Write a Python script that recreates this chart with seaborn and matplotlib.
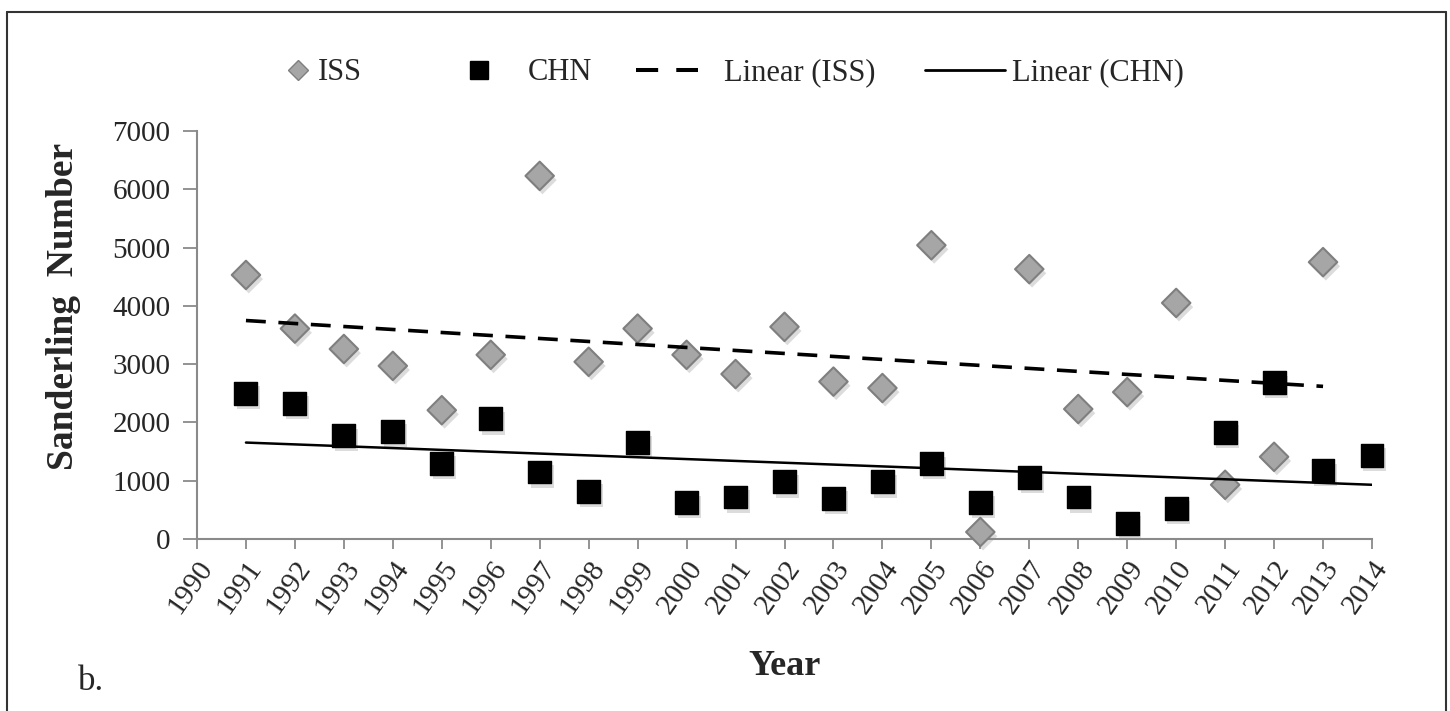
import numpy as np
import pandas as pd
import seaborn as sns
import matplotlib
matplotlib.use("Agg")
import matplotlib.pyplot as plt
from matplotlib import patheffects as pe
from matplotlib.lines import Line2D

# ---- data ----
years_iss = list(range(1991, 2014))
iss = [4530, 3610, 3260, 2970, 2210, 3160, 6230, 3040, 3610, 3160, 2830, 3640,
       2700, 2590, 5040, 120, 4630, 2230, 2520, 4050, 930, 1410, 4750]
years_chn = list(range(1991, 2015))
chn = [2500, 2320, 1770, 1850, 1300, 2060, 1150, 820, 1650, 620, 720, 980,
       700, 980, 1290, 620, 1050, 720, 270, 530, 1830, 2680, 1170, 1440]
x_ticks = list(range(1990, 2015))
y_ticks = list(range(0, 7001, 1000))
series_labels = ["ISS", "CHN", "Linear (ISS)", "Linear (CHN)"]

# linear trendlines fitted from the data
p_iss = np.polyfit(years_iss, iss, 1)
p_chn = np.polyfit(years_chn, chn, 1)
trend_iss = np.polyval(p_iss, years_iss)
trend_chn = np.polyval(p_chn, years_chn)

sns.set_theme(style="white")
plt.rcParams["font.family"] = ["Liberation Serif", "DejaVu Serif"]

W, H = 1450, 711
fig = plt.figure(figsize=(W/100, H/100), dpi=100)
ax = fig.add_axes([197/W, 1-539/H, 1175/W, 408/H])

shadow = [pe.SimplePatchShadow(offset=(2, -3), shadow_rgbFace=(0.55, 0.55, 0.55), alpha=0.3), pe.Normal()]

sns.scatterplot(x=years_chn, y=chn, marker="s", s=16.5**2, color="black",
                edgecolor="black", linewidth=1, ax=ax, zorder=3, clip_on=False)
ax.collections[-1].set_path_effects(shadow)
sns.scatterplot(x=years_iss, y=iss, marker="D", s=14.5**2, color="#A6A6A6",
                edgecolor="#7F7F7F", linewidth=1.5, ax=ax, zorder=4, clip_on=False)
ax.collections[-1].set_path_effects(shadow)

sns.lineplot(x=years_iss, y=trend_iss, color="black", lw=2.6, ax=ax, zorder=5)
ax.lines[-1].set_dashes((5.5, 3.5))
sns.lineplot(x=years_chn, y=trend_chn, color="black", lw=1.8, ax=ax, zorder=5)

ax.set_xlim(1990, 2014)
ax.set_ylim(0, 7000)
ax.set_xticks(x_ticks)
ax.set_xticklabels([str(v) for v in x_ticks], rotation=55, ha="right",
                   va="top", rotation_mode="anchor", fontsize=21)
ax.set_yticks(y_ticks)
ax.set_yticklabels([str(v) for v in y_ticks], fontsize=21)
ax.tick_params(axis="x", direction="out", length=7, width=1.3, color="#8A8A8A", pad=5)
ax.tick_params(axis="y", direction="out", length=10, width=1.3, color="#8A8A8A", pad=9)
ax.tick_params(bottom=True, left=True)
for s in ["top", "right"]:
    ax.spines[s].set_visible(False)
for s in ["left", "bottom"]:
    ax.spines[s].set_color("#8A8A8A")
    ax.spines[s].set_linewidth(1.5)
ax.grid(False)
ax.set_facecolor("white")

ax.set_ylabel("Sanderling  Number", fontsize=27, fontweight="bold")
ax.yaxis.set_label_coords(-0.099, 0.571)
ax.set_xlabel("Year", fontsize=26, fontweight="bold")
ax.xaxis.set_label_coords(0.5, -0.272)

# legend: one entry per legend so the irregular spacing can be matched
handles = [
    Line2D([], [], marker="D", ls="", color="#A6A6A6", mec="#7F7F7F", mew=1, ms=10),
    Line2D([], [], marker="s", ls="", color="black", ms=13),
    Line2D([], [], color="black", lw=2.9, dashes=(5.5, 4.5), dash_capstyle="butt"),
    Line2D([], [], color="black", lw=2),
]
lfs = 22
em = lfs * 100 / 72  # pixels per em
entries = [  # (left edge px, handle length px, text start px)
    (282, 31, 318),
    (463, 31, 528),
    (636, 62, 724),
    (925, 80, 1012),
]
for h, lab, (x0, hl, tx) in zip(handles, series_labels, entries):
    fig.legend([h], [lab], loc="center left", bbox_to_anchor=(x0/W, 1-73/H),
               frameon=False, fontsize=lfs, handlelength=hl/em,
               handletextpad=(tx - x0 - hl)/em, borderpad=0, borderaxespad=0)

fig.text(78/W, 1-682/H, "b.", fontsize=25, ha="left", va="center")

# figure frame
for xs, ys in [((7/W, 1446/W), (1-12/H, 1-12/H)),
               ((7/W, 7/W), (0, 1-12/H)),
               ((1446/W, 1446/W), (0, 1-12/H))]:
    fig.add_artist(Line2D(xs, ys, color="#333333", lw=1.5))

fig.savefig("out.png", dpi=100, facecolor="white")
